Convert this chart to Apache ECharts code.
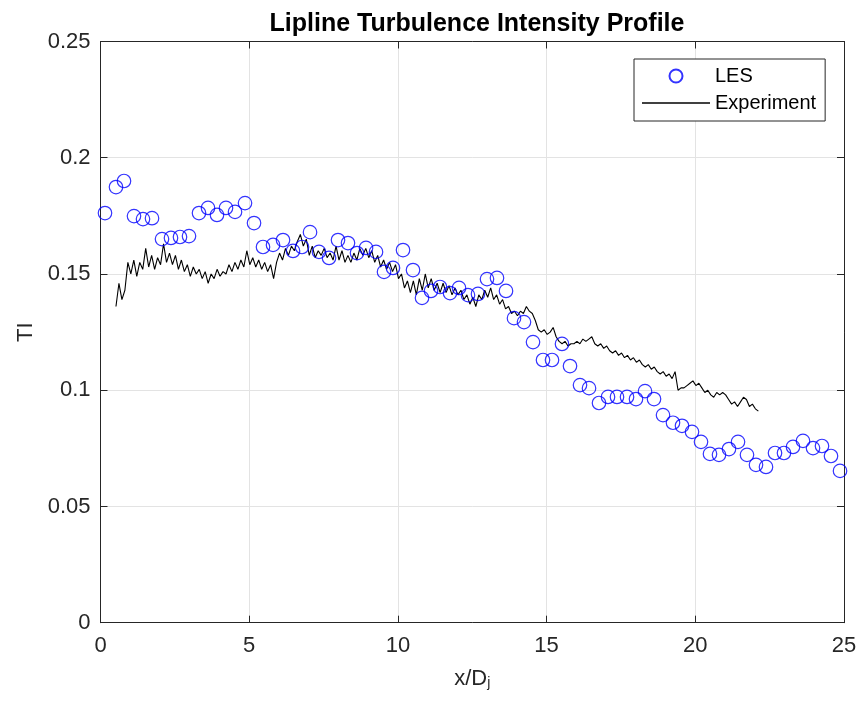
<!DOCTYPE html>
<html>
<head>
<meta charset="utf-8">
<script src="https://cdn.jsdelivr.net/npm/echarts@6/dist/echarts.min.js"></script>
<style>html,body{margin:0;padding:0;background:#fff}#c{width:861px;height:708px}</style>
</head>
<body>
<div id="c"></div>
<script>
// LES points (x/Dj, TI)
const lesX = [0.151,0.521,0.790,1.126,1.429,1.732,2.068,2.370,2.673,2.976,3.312,3.615,3.917,4.220,4.523,4.859,5.162,5.464,5.801,6.137,6.473,6.776,7.045,7.347,7.684,7.986,8.322,8.625,8.928,9.264,9.533,9.835,10.172,10.508,10.811,11.113,11.416,11.752,12.055,12.357,12.693,12.996,13.332,13.635,13.904,14.240,14.543,14.879,15.182,15.518,15.787,16.123,16.426,16.762,17.065,17.367,17.704,18.006,18.309,18.612,18.914,19.250,19.553,19.889,20.192,20.494,20.797,21.133,21.436,21.738,22.041,22.377,22.680,22.982,23.285,23.621,23.958,24.260,24.563,24.866];
const lesY = [0.1762,0.1874,0.1900,0.1749,0.1736,0.1740,0.1650,0.1655,0.1659,0.1663,0.1762,0.1784,0.1754,0.1784,0.1767,0.1805,0.1719,0.1616,0.1625,0.1646,0.1599,0.1616,0.1680,0.1595,0.1569,0.1646,0.1633,0.1590,0.1612,0.1595,0.1509,0.1526,0.1603,0.1517,0.1397,0.1427,0.1444,0.1418,0.1440,0.1409,0.1414,0.1478,0.1483,0.1427,0.1310,0.1293,0.1207,0.1130,0.1130,0.1199,0.1104,0.1022,0.1009,0.0945,0.0971,0.0971,0.0971,0.0962,0.0996,0.0962,0.0893,0.0860,0.0847,0.0821,0.0778,0.0726,0.0722,0.0747,0.0778,0.0722,0.0679,0.0670,0.0730,0.0730,0.0756,0.0782,0.0751,0.0760,0.0717,0.0653];

// Experiment: sampled every expStep in x/Dj starting at expStart
const expStart = 0.52;
const expStep = 0.1;
const expY = [
0.136,0.146,0.139,0.143,0.155,0.150,0.156,0.149,0.155,0.152,
0.161,0.153,0.158,0.152,0.157,0.154,0.163,0.155,0.159,0.154,
0.158,0.152,0.156,0.151,0.154,0.149,0.153,0.150,0.152,0.148,
0.151,0.146,0.150,0.148,0.152,0.149,0.151,0.150,0.154,0.151,
0.155,0.152,0.156,0.153,0.160,0.154,0.157,0.153,0.156,0.152,
0.155,0.151,0.154,0.148,0.155,0.159,0.156,0.161,0.158,0.162,
0.160,0.164,0.167,0.162,0.165,0.158,0.162,0.157,0.160,0.158,
0.161,0.157,0.159,0.156,0.162,0.156,0.160,0.155,0.158,0.155,
0.159,0.156,0.161,0.158,0.161,0.157,0.160,0.155,0.158,0.153,
0.156,0.152,0.155,0.151,0.154,0.148,0.150,0.144,0.147,0.142,
0.147,0.141,0.148,0.143,0.150,0.144,0.148,0.143,0.146,0.142,
0.146,0.142,0.145,0.141,0.144,0.141,0.143,0.139,0.141,0.137,
0.140,0.136,0.141,0.139,0.143,0.140,0.144,0.139,0.141,0.137,
0.139,0.135,0.136,0.133,0.134,0.132,0.134,0.133,0.136,0.134,
0.133,0.130,0.126,0.125,0.126,0.124,0.125,0.127,0.123,0.121,
0.120,0.121,0.119,0.120,0.120,0.121,0.120,0.122,0.121,0.122,
0.123,0.120,0.119,0.120,0.118,0.119,0.117,0.116,0.117,0.115,
0.116,0.114,0.115,0.113,0.114,0.112,0.113,0.111,0.110,0.111,
0.109,0.110,0.108,0.107,0.108,0.106,0.107,0.105,0.108,0.100,
0.101,0.101,0.102,0.103,0.104,0.102,0.103,0.101,0.099,0.100,
0.098,0.097,0.099,0.098,0.099,0.098,0.096,0.094,0.095,0.093,
0.095,0.097,0.096,0.093,0.094,0.092,0.091];

const xTicks = [0, 5, 10, 15, 20, 25];
const yTicks = [0, 0.05, 0.1, 0.15, 0.2, 0.25];

const FONT = "'Liberation Sans', Arial, Helvetica, sans-serif";
const AX = '#262626';

const lesData = lesX.map((x, i) => [x, lesY[i]]);
const expData = expY.map((y, i) => [+(expStart + i * expStep).toFixed(3), y]);

const chart = echarts.init(document.getElementById('c'), null, {renderer: 'canvas'});
const baseX = {
  type: 'value', min: xTicks[0], max: xTicks[xTicks.length - 1], interval: 5
};
const baseY = {
  type: 'value', min: yTicks[0], max: yTicks[yTicks.length - 1], interval: 0.05
};
chart.setOption({
  animation: false,
  backgroundColor: '#fff',
  title: {
    text: 'Lipline Turbulence Intensity Profile',
    left: 472, top: 7, textAlign: 'center',
    textStyle: {fontFamily: FONT, fontSize: 25, fontWeight: 'bold', color: '#000'}
  },
  grid: {left: 100.5, right: 17, top: 41.5, bottom: 85.3, containLabel: false},
  legend: {
    orient: 'vertical', left: 634, top: 59,
    padding: [7, 9, 8, 8], itemGap: 7,
    itemWidth: 68, itemHeight: 13,
    backgroundColor: '#fff', borderColor: AX, borderWidth: 1,
    textStyle: {fontFamily: FONT, fontSize: 20, color: '#000'},
    data: [
      {name: 'LES'},
      {name: 'Experiment', icon: 'path://M0 0H68V1.5H0Z', itemStyle: {color: '#000'}}
    ]
  },
  xAxis: [
    Object.assign({}, baseX, {
      position: 'bottom',
      name: '{a|x/D}{b|j}', nameLocation: 'middle', nameGap: 45,
      nameTextStyle: {
        fontFamily: FONT, color: AX,
        rich: {
          a: {fontFamily: FONT, fontSize: 22, color: AX, lineHeight: 22, verticalAlign: 'top'},
          b: {fontFamily: FONT, fontSize: 14, color: AX, lineHeight: 14, verticalAlign: 'bottom', padding: [12, 0, 0, 0]}
        }
      },
      axisLine: {show: true, onZero: false, lineStyle: {color: AX, width: 1}},
      axisTick: {show: true, inside: true, length: 7, lineStyle: {color: AX}},
      axisLabel: {fontFamily: FONT, fontSize: 22, color: AX, margin: 12},
      splitLine: {show: true, lineStyle: {color: '#e3e3e3', width: 1}}
    }),
    Object.assign({}, baseX, {
      position: 'top',
      axisLine: {show: true, onZero: false, lineStyle: {color: AX, width: 1}},
      axisTick: {show: true, inside: true, length: 7, lineStyle: {color: AX}},
      axisLabel: {show: false},
      splitLine: {show: false}
    })
  ],
  yAxis: [
    Object.assign({}, baseY, {
      position: 'left',
      name: 'TI', nameLocation: 'middle', nameGap: 64, nameRotate: 90,
      nameTextStyle: {fontFamily: FONT, fontSize: 22, color: AX},
      axisLine: {show: true, onZero: false, lineStyle: {color: AX, width: 1}},
      axisTick: {show: true, inside: true, length: 7, lineStyle: {color: AX}},
      axisLabel: {fontFamily: FONT, fontSize: 22, color: AX, margin: 10,
        formatter: v => String(+v.toFixed(3))},
      splitLine: {show: true, lineStyle: {color: '#e3e3e3', width: 1}}
    }),
    Object.assign({}, baseY, {
      position: 'right',
      axisLine: {show: true, onZero: false, lineStyle: {color: AX, width: 1}},
      axisTick: {show: true, inside: true, length: 7, lineStyle: {color: AX}},
      axisLabel: {show: false},
      splitLine: {show: false}
    })
  ],
  series: [
    {
      name: 'LES', type: 'scatter', xAxisIndex: 0, yAxisIndex: 0,
      symbol: 'circle', symbolSize: 13.5,
      itemStyle: {color: 'rgba(0,0,0,0)', borderColor: '#0000ff', borderWidth: 1.2},
      data: lesData, z: 3
    },
    {
      name: 'Experiment', type: 'line', xAxisIndex: 0, yAxisIndex: 0,
      symbol: 'none', showSymbol: false,
      lineStyle: {color: '#000', width: 1.1},
      itemStyle: {color: '#000'},
      data: expData, z: 2
    }
  ]
});
</script>
</body>
</html>
